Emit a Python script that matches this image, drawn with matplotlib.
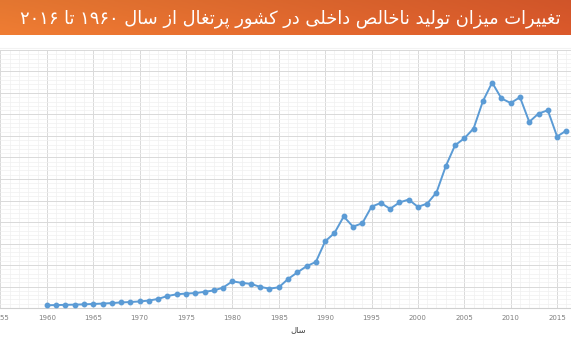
import unicodedata
import numpy as np
import matplotlib
matplotlib.use("Agg")
import matplotlib.pyplot as plt
from matplotlib.ticker import MultipleLocator

# ---- data (GDP, billions US$) ----
years = list(range(1960, 2017))
gdp = [3.19, 3.42, 3.67, 3.93, 4.24, 4.69, 5.13, 5.75, 6.45, 6.94,
       7.62, 8.67, 10.55, 13.97, 15.92, 16.82, 17.32, 18.83, 20.38, 23.75,
       31.05, 29.24, 28.05, 24.52, 22.54, 24.03, 33.73, 41.35, 48.63, 53.58,
       77.55, 87.14, 106.4, 94.6, 98.5, 117.8, 122.2, 115.3, 122.7, 126.1,
       117.6, 121.4, 134.3, 164.8, 189.2, 197.3, 208.7, 240.4, 262.1, 243.7,
       238.3, 245.1, 216.4, 226.1, 229.9, 199.4, 206.3]
xticks = list(range(1955, 2020, 5))
title_text = "تغییرات میزان تولید ناخالص داخلی در کشور پرتغال از سال ۱۹۶۰ تا ۲۰۱۶"
xlabel_text = "سال"

# ---- simple Arabic/Persian shaping for matplotlib ----
RIGHT_ONLY = set("اآأإدذرزژوؤة")


def is_letter(c):
    try:
        return unicodedata.name(c).startswith("ARABIC LETTER")
    except ValueError:
        return False


def form_of(c, form):
    try:
        return unicodedata.lookup(unicodedata.name(c) + " " + form + " FORM")
    except KeyError:
        return c


def shape_word(w):
    out = []
    for i, c in enumerate(w):
        if not is_letter(c):
            out.append(c)
            continue
        prev = w[i - 1] if i > 0 else None
        nxt = w[i + 1] if i + 1 < len(w) else None
        jp = prev is not None and is_letter(prev) and prev not in RIGHT_ONLY
        jn = nxt is not None and is_letter(nxt) and c not in RIGHT_ONLY
        if jp and jn:
            f = "MEDIAL"
        elif jp:
            f = "FINAL"
        elif jn:
            f = "INITIAL"
        else:
            f = "ISOLATED"
        out.append(form_of(c, f))
    return "".join(out)


def rtl(text):
    toks = text.split(" ")
    vis = []
    for t in reversed(toks):
        if any(is_letter(c) for c in t):
            vis.append(shape_word(t)[::-1])
        else:
            vis.append(t)
    return " ".join(vis)


fig = plt.figure(figsize=(5.71, 3.40), dpi=100)
fig.patch.set_facecolor("white")

# ---- banner ----
bh = 35 / 340
bax = fig.add_axes([0, 1 - bh, 1, bh])
c1 = np.array([0.94, 0.49, 0.20])   # left (lighter)
c2 = np.array([0.86, 0.35, 0.17])   # right (darker)
t = np.linspace(0, 1, 256)
grad = c1[None, :] * (1 - t[:, None]) + c2[None, :] * t[:, None]
v = np.linspace(0, 1, 20)
shade = 1.0 - 0.05 * (v[:, None, None])
img = grad[None, :, :] * shade
bax.imshow(np.clip(img, 0, 1), aspect="auto", extent=[0, 1, 0, 1], origin="lower")
bax.set_xlim(0, 1)
bax.set_ylim(0, 1)
bax.axis("off")
bax.text(0.982, 0.47, rtl(title_text), color="white", fontsize=12.9,
         ha="right", va="center", family=["DejaVu Sans"])

# thin light line under the banner
fig.add_artist(plt.Line2D([0, 1], [1 - 48 / 340, 1 - 48 / 340],
                          color="#f2f2f2", lw=0.8, transform=fig.transFigure))

# ---- chart ----
ax = fig.add_axes([0, 1 - 308 / 340, 1, (308 - 50) / 340])
ax.plot(years, gdp, color="#5b9bd5", lw=1.4, marker="o", ms=3.2,
        markerfacecolor="#5b9bd5", markeredgecolor="#5b9bd5", zorder=3)
ax.set_xlim(1954.95, 2016.5)
ax.set_ylim(0, 300)
ax.set_xticks(xticks)
ax.set_xticklabels([str(x) for x in xticks], fontsize=5, color="#7f7f7f")
ax.xaxis.set_minor_locator(MultipleLocator(1))
ax.yaxis.set_major_locator(MultipleLocator(25))
ax.yaxis.set_minor_locator(MultipleLocator(5))
ax.set_yticklabels([])
ax.tick_params(axis="both", which="both", length=0, pad=5)
ax.grid(which="major", color="#d9d9d9", lw=0.7)
ax.grid(which="minor", color="#f0f0f0", lw=0.5)
ax.set_axisbelow(True)
for s in ["top", "right", "left"]:
    ax.spines[s].set_visible(False)
ax.spines["bottom"].set_color("#d0d0d0")
ax.spines["bottom"].set_linewidth(0.8)

fig.text(298 / 571, 1 - 330 / 340, rtl(xlabel_text), fontsize=6,
         color="#404040", ha="center", va="center", family=["DejaVu Sans"])

fig.savefig("out.png", dpi=100)
